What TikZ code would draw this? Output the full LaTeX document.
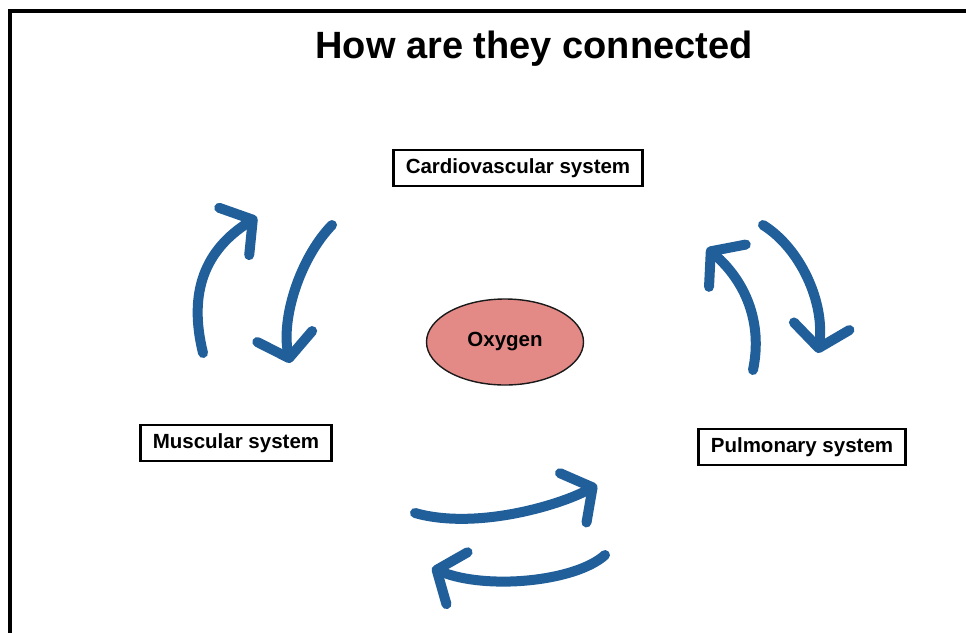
\documentclass[tikz,border=0pt]{standalone}
\usepackage{fontspec}
\setmainfont{Liberation Sans}
\usepackage{tikz}
\usetikzlibrary{arrows.meta,shapes.geometric}
\definecolor{flowblue}{HTML}{215F9A}
\definecolor{oxyred}{HTML}{E38A87}
\definecolor{edge}{HTML}{1A1A1A}
\tikzset{
  frame/.style={draw=black, line width=3.2pt},
  sysbox/.style={draw=black, line width=2.8pt, fill=white, inner xsep=12pt,
    minimum height=36pt, font=\bfseries\fontsize{20.5}{24}\selectfont},
  oxy/.style={ellipse, draw=edge, line width=1.4pt, fill=oxyred,
    minimum width=157pt, minimum height=86pt, font=\bfseries\fontsize{20.5}{24}\selectfont},
  ttl/.style={font=\bfseries\fontsize{38}{44}\selectfont},
  flow/.style={draw=flowblue, line width=10pt, line cap=round,
    -{Straight Barb[round,length=22pt,width=56pt]}},
}
\begin{document}
\begin{tikzpicture}[x=1pt,y=-1pt]
  \useasboundingbox (0,0) rectangle (966,632);
  \fill[white] (0,0) rectangle (966,632);
  \draw[frame] (10,640) -- (10,11) -- (972,11);
  % title and nodes
  \node[ttl] (title) at (534,49) {How are they connected};
  \node[sysbox] (cardio) at (518,168) {Cardiovascular system};
  \node[sysbox] (muscle) at (236,443) {Muscular system};
  \node[sysbox] (pulmo) at (802,447) {Pulmonary system};
  \node[oxy] (oxygen) at (505,342) {Oxygen};
  % arrow ends
  \coordinate (ml1) at (203,353);  \coordinate (ml2) at (257,217);
  \coordinate (mr1) at (332,225);  \coordinate (mr2) at (290,363);
  \coordinate (pl1) at (753,370);  \coordinate (pl2) at (707,248);
  \coordinate (pr1) at (763,225);  \coordinate (pr2) at (818,353);
  \coordinate (bt1) at (415,513);  \coordinate (bt2) at (597,485);
  \coordinate (bb1) at (605,555);  \coordinate (bb2) at (432,568);
  % muscular <-> cardiovascular
  \draw[flow] (ml1) .. controls (188,292) and (205,250) .. (ml2);
  \draw[flow] (mr1) .. controls (300,258) and (281,318) .. (mr2);
  % pulmonary <-> cardiovascular
  \draw[flow] (pl1) .. controls (763,322) and (745,281) .. (pl2);
  \draw[flow] (pr1) .. controls (800,248) and (825,302) .. (pr2);
  % muscular <-> pulmonary
  \draw[flow] (bt1) .. controls (475,530) and (558,506) .. (bt2);
  \draw[flow] (bb1) .. controls (575,582) and (486,590) .. (bb2);
\end{tikzpicture}
\end{document}
